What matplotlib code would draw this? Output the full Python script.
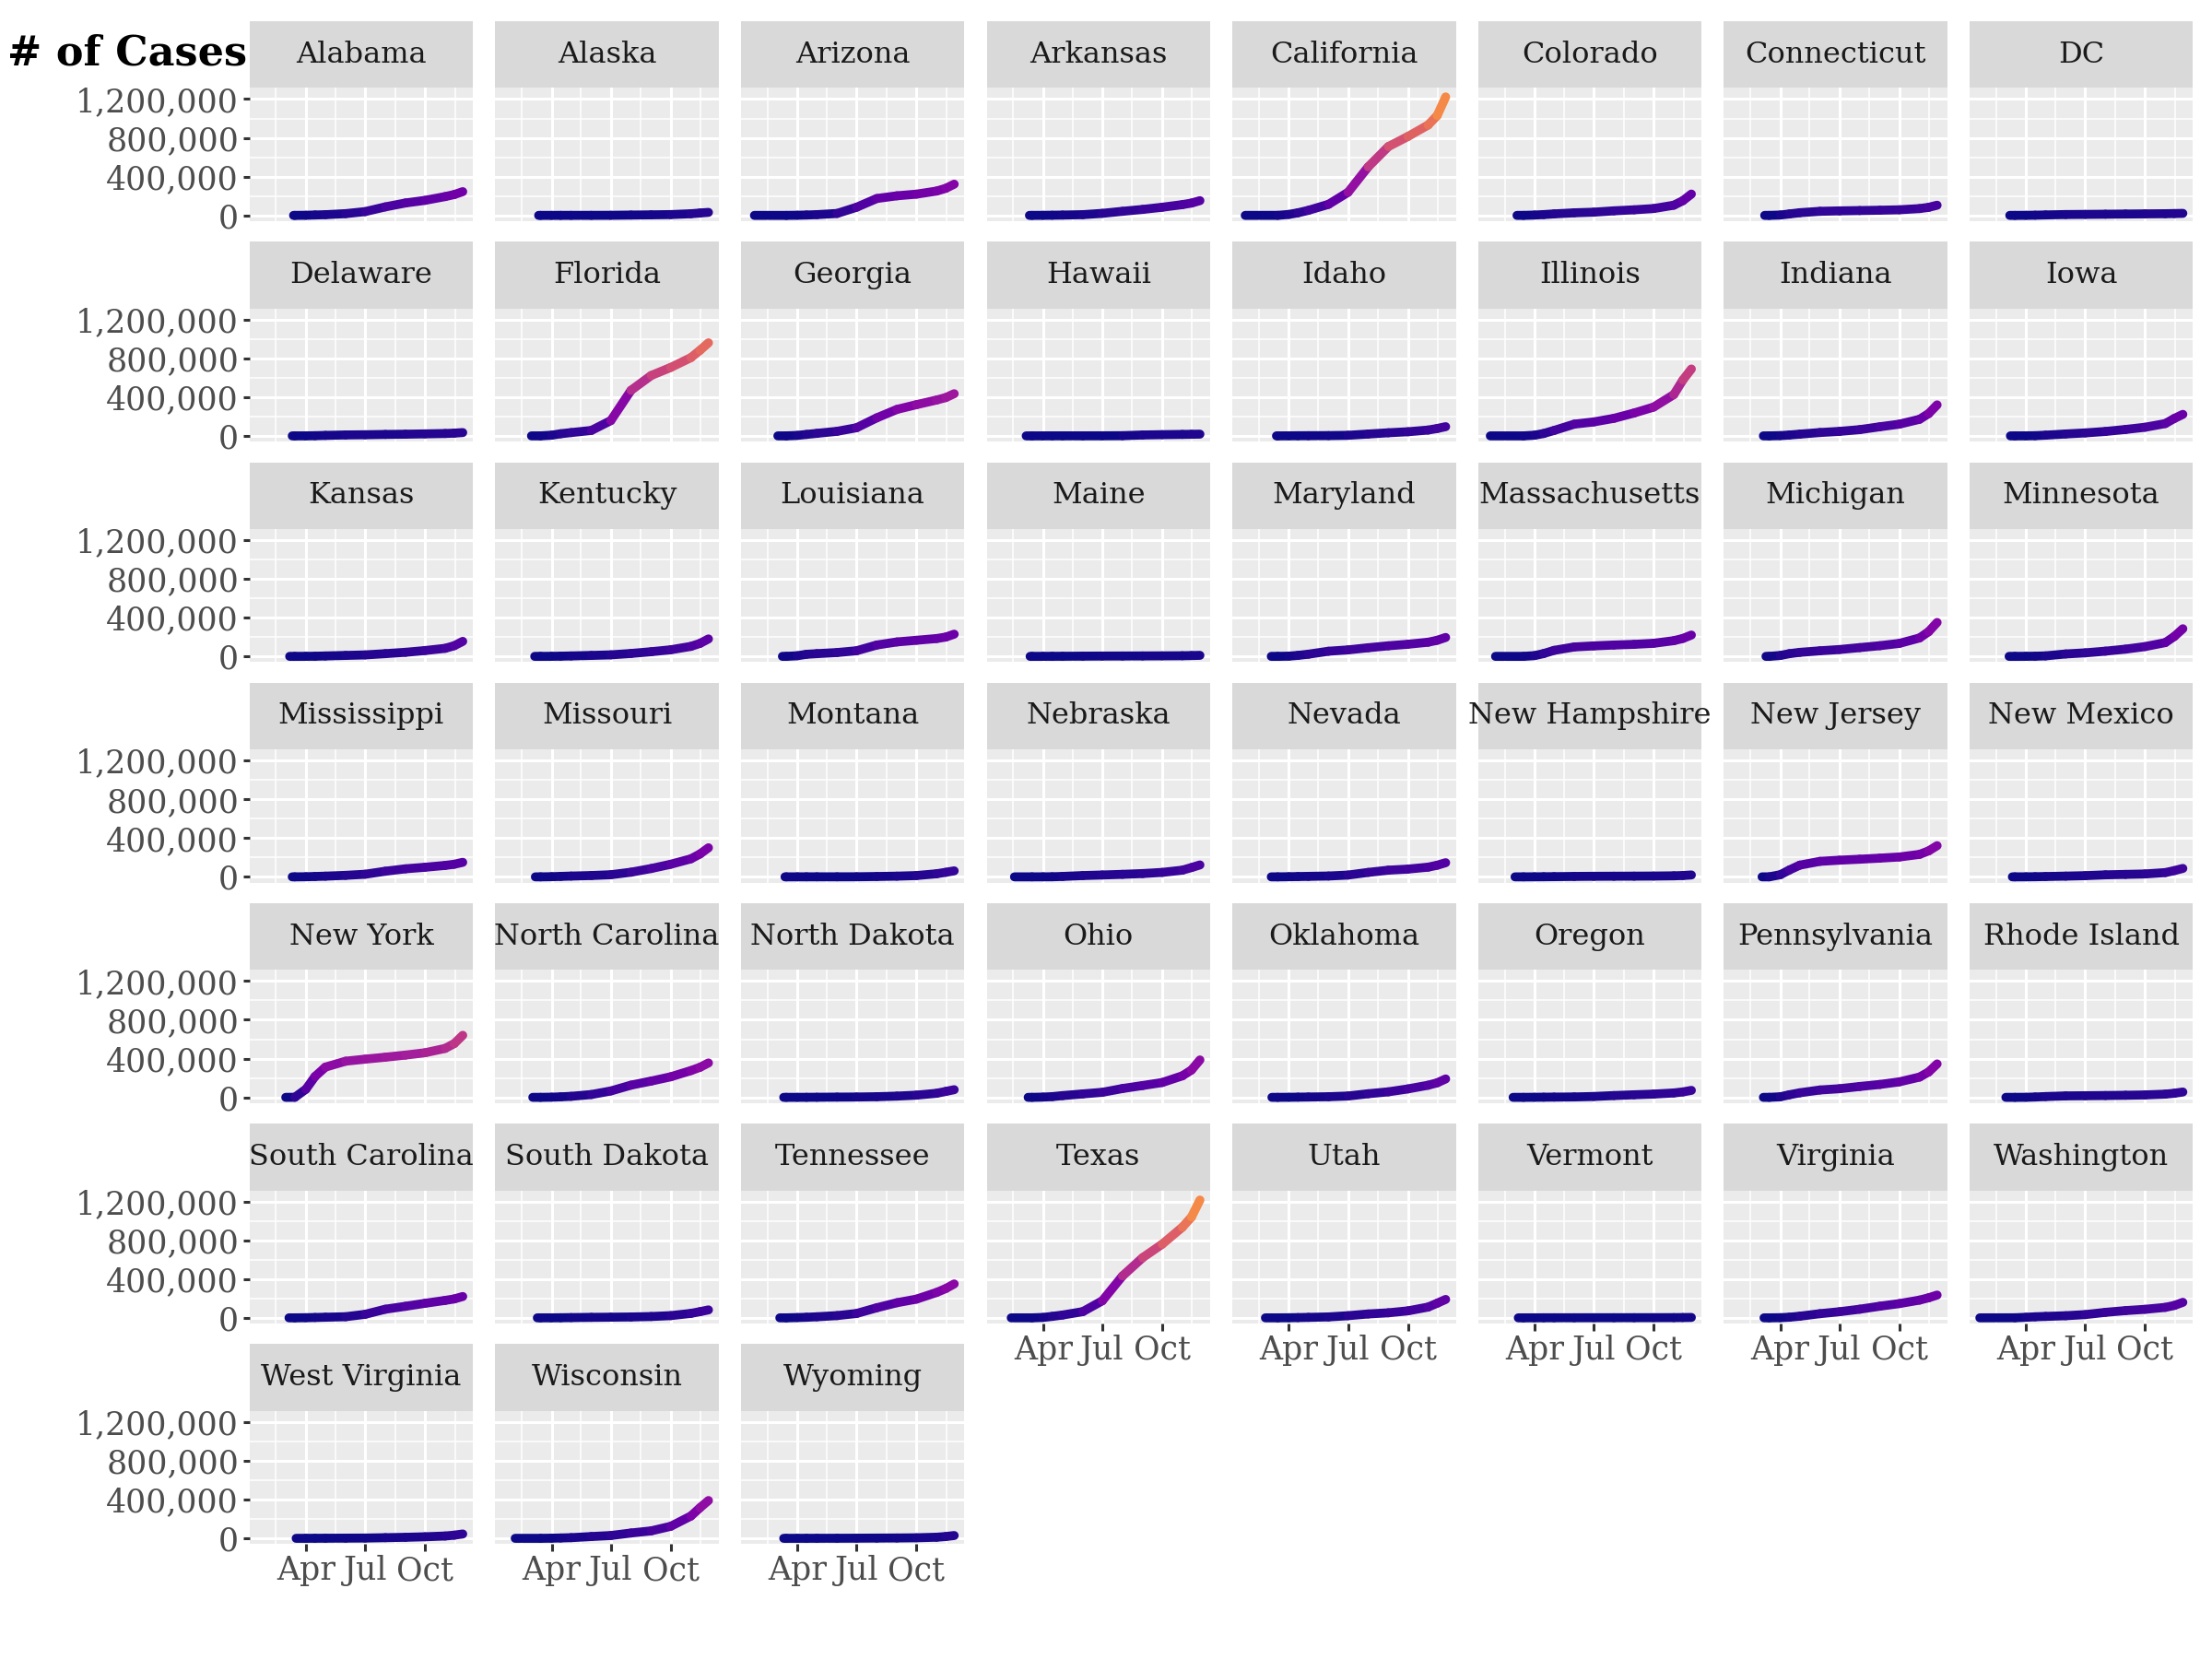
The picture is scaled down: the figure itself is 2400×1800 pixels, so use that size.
import numpy as np
import matplotlib.pyplot as plt
import matplotlib.dates as mdates
from matplotlib.collections import LineCollection
from matplotlib.colors import ListedColormap, PowerNorm
from matplotlib.ticker import FuncFormatter, FixedLocator

plt.rcParams['font.family'] = ['DejaVu Serif']

# cumulative cases (thousands) on these dates, after each state's first case
grid_dates = ['2020-03-15', '2020-04-01', '2020-04-15', '2020-05-01', '2020-06-01',
              '2020-07-01', '2020-08-01', '2020-09-01', '2020-10-01', '2020-11-01',
              '2020-11-15', '2020-11-28']

states = ['Alabama', 'Alaska', 'Arizona', 'Arkansas', 'California', 'Colorado',
          'Connecticut', 'DC', 'Delaware', 'Florida', 'Georgia', 'Hawaii', 'Idaho',
          'Illinois', 'Indiana', 'Iowa', 'Kansas', 'Kentucky', 'Louisiana', 'Maine',
          'Maryland', 'Massachusetts', 'Michigan', 'Minnesota', 'Mississippi',
          'Missouri', 'Montana', 'Nebraska', 'Nevada', 'New Hampshire', 'New Jersey',
          'New Mexico', 'New York', 'North Carolina', 'North Dakota', 'Ohio',
          'Oklahoma', 'Oregon', 'Pennsylvania', 'Rhode Island', 'South Carolina',
          'South Dakota', 'Tennessee', 'Texas', 'Utah', 'Vermont', 'Virginia',
          'Washington', 'West Virginia', 'Wisconsin', 'Wyoming']

first_case = ['2020-03-13', '2020-03-12', '2020-01-26', '2020-03-11', '2020-01-25',
              '2020-03-05', '2020-03-08', '2020-03-07', '2020-03-11', '2020-03-01',
              '2020-03-02', '2020-03-06', '2020-03-13', '2020-01-24', '2020-03-06',
              '2020-03-08', '2020-03-07', '2020-03-06', '2020-03-09', '2020-03-12',
              '2020-03-05', '2020-02-01', '2020-03-10', '2020-03-06', '2020-03-11',
              '2020-03-07', '2020-03-13', '2020-02-17', '2020-03-05', '2020-03-02',
              '2020-03-04', '2020-03-11', '2020-03-01', '2020-03-03', '2020-03-11',
              '2020-03-09', '2020-03-06', '2020-02-28', '2020-03-06', '2020-03-01',
              '2020-03-06', '2020-03-10', '2020-03-05', '2020-02-12', '2020-02-25',
              '2020-03-07', '2020-03-07', '2020-01-21', '2020-03-17', '2020-02-05',
              '2020-03-11']

cases_k = {
    'Alabama': [0.01, 1.1, 4.1, 7.1, 18, 38.9, 87.7, 128, 155, 194, 215, 245],
    'Alaska': [0.01, 0.13, 0.29, 0.36, 0.47, 0.95, 3.4, 5.6, 8.3, 17, 24.6, 31],
    'Arizona': [0.013, 1.4, 3.8, 7.6, 20, 84, 174, 202, 219, 251, 279, 322],
    'Arkansas': [0.02, 0.6, 1.6, 3.3, 7.4, 21, 42, 61.5, 84, 111, 127, 152],
    'California': [0.4, 9.9, 26.7, 52, 114, 238, 501, 710, 814, 932, 1030, 1222],
    'Colorado': [0.13, 3.3, 8.3, 15.3, 26.6, 33, 47, 57.5, 70.5, 105, 152, 220],
    'Connecticut': [0.026, 3.6, 14.8, 27.7, 42, 46.5, 49.8, 53.2, 57.7, 70.2, 83, 105],
    'DC': [0.01, 0.59, 2.0, 4.6, 8.8, 10.3, 12.1, 14, 15.6, 17.4, 19, 21],
    'Delaware': [0.006, 0.37, 1.9, 4.9, 9.6, 11.5, 14.8, 17.2, 20.6, 24.5, 28.2, 34],
    'Florida': [0.1, 7.0, 22, 34, 56, 158, 470, 623, 706, 807, 883, 960],
    'Georgia': [0.1, 4.7, 15, 26, 47, 84, 186, 273, 322, 370, 395, 435],
    'Hawaii': [0.007, 0.26, 0.53, 0.62, 0.65, 0.92, 2.0, 9.2, 12.5, 15, 16.3, 17.8],
    'Idaho': [0.005, 0.67, 1.5, 2.0, 2.9, 5.8, 19, 32, 42.6, 60, 76, 95],
    'Illinois': [0.093, 6.98, 24.6, 56, 121, 144, 181, 236, 297, 426, 577, 690],
    'Indiana': [0.02, 2.6, 8.9, 17.8, 34.6, 46.4, 64.3, 93.9, 121, 171, 230, 320],
    'Iowa': [0.02, 0.55, 1.9, 7.1, 19.7, 30.6, 45.5, 66.2, 89, 127, 180, 222],
    'Kansas': [0.01, 0.48, 1.4, 4.3, 9.7, 15, 28, 42, 60, 83, 110, 155],
    'Kentucky': [0.02, 0.63, 2.0, 4.5, 9.7, 15.6, 30, 48, 68, 103, 134, 180],
    'Louisiana': [0.1, 6.4, 21.5, 28, 39.5, 58, 117, 149, 166, 184, 199, 229],
    'Maine': [0.01, 0.34, 0.77, 1.1, 2.3, 3.3, 3.9, 4.6, 5.4, 6.5, 8.2, 10.5],
    'Maryland': [0.03, 2.3, 10, 22.4, 53, 66.8, 89, 109, 125, 146, 166, 195],
    'Massachusetts': [0.16, 7.7, 29, 62, 97, 108, 117, 124, 135, 162, 185, 220],
    'Michigan': [0.03, 9.3, 28, 41.4, 57.4, 70.5, 90.4, 110, 134, 190, 255, 350],
    'Minnesota': [0.03, 0.69, 1.7, 5.1, 25, 36.3, 53.7, 74.5, 101, 142, 206, 285],
    'Mississippi': [0.02, 1.07, 3.8, 7.2, 15.5, 27, 58, 83, 99, 118, 130, 150],
    'Missouri': [0.01, 1.6, 4.7, 8.1, 13.6, 22, 48, 86, 130, 186, 236, 300],
    'Montana': [0.007, 0.22, 0.4, 0.45, 0.5, 0.95, 3.7, 7.2, 13.4, 32, 47, 62],
    'Nebraska': [0.02, 0.25, 0.9, 4.3, 13.3, 19.2, 26, 34, 46, 69, 96, 123],
    'Nevada': [0.02, 1.3, 3.2, 5.1, 8.7, 18.5, 46, 69, 80, 100, 120, 146],
    'New Hampshire': [0.01, 0.41, 1.14, 2.1, 4.4, 5.8, 6.6, 7.3, 8.3, 10.7, 13.8, 19.5],
    'New Jersey': [0.1, 22, 71, 121, 160, 172, 182, 193, 205, 232, 268, 322],
    'New Mexico': [0.01, 0.36, 1.4, 3.4, 7.6, 12.3, 20.8, 25.4, 29.9, 44, 64.6, 87],
    'New York': [0.73, 84, 215, 312, 373, 394, 414, 436, 460, 505, 555, 640],
    'North Carolina': [0.03, 1.6, 5.2, 10.5, 29, 66, 126, 168, 212, 276, 310, 355],
    'North Dakota': [0.001, 0.15, 0.39, 1.1, 2.5, 3.5, 6.5, 12.7, 22.7, 41.9, 61, 79],
    'Ohio': [0.03, 2.5, 7.3, 18, 35.5, 52, 91, 122, 153, 222, 282, 386],
    'Oklahoma': [0.007, 0.72, 2.1, 3.5, 6.4, 13.8, 37.3, 57, 87, 125, 150, 190],
    'Oregon': [0.03, 0.74, 1.6, 2.5, 4.2, 8.9, 18.5, 26.5, 33.5, 45.4, 56, 72],
    'Pennsylvania': [0.05, 5.8, 26.7, 47, 76, 89, 112, 133, 160, 209, 262, 345],
    'Rhode Island': [0.02, 0.57, 3.5, 8.2, 15, 16.8, 18.9, 21.6, 25, 33, 42.3, 55],
    'South Carolina': [0.02, 1.3, 3.6, 6.3, 11.4, 36.3, 89, 119, 150, 180, 195, 220],
    'South Dakota': [0.009, 0.13, 0.99, 2.5, 5.0, 6.7, 8.9, 13.5, 22.7, 46, 63.7, 82],
    'Tennessee': [0.03, 2.8, 5.8, 10.9, 23, 45, 104, 156, 193, 262, 302, 350],
    'Texas': [0.07, 4.1, 15, 29, 64, 176, 432, 621, 760, 935, 1040, 1215],
    'Utah': [0.03, 0.9, 2.5, 4.8, 9.5, 22, 40, 52, 72, 111, 151, 190],
    'Vermont': [0.01, 0.32, 0.77, 0.87, 0.98, 1.2, 1.4, 1.6, 1.8, 2.2, 3.0, 4.1],
    'Virginia': [0.04, 1.5, 6.5, 16.9, 43, 63, 89, 120, 147, 183, 207, 235],
    'Washington': [0.77, 5.6, 10.8, 14.6, 21.7, 33.4, 56.7, 74.6, 88, 108, 128, 160],
    'West Virginia': [None, 0.19, 0.7, 1.1, 2.0, 2.9, 6.6, 10.5, 16, 24, 32.6, 45],
    'Wisconsin': [0.03, 1.5, 3.7, 6.9, 18.5, 29, 55, 77, 124, 230, 316, 390],
    'Wyoming': [0.003, 0.14, 0.28, 0.57, 0.88, 1.5, 2.7, 3.7, 5.6, 11.5, 18.6, 29],
}

x_ticks = ['2020-04-01', '2020-07-01', '2020-10-01']
x_labels = ['Apr', 'Jul', 'Oct']
x_minor = ['2020-02-15', '2020-05-16', '2020-08-16', '2020-11-16']
y_ticks = [0, 400000, 800000, 1200000]
y_minor = [200000, 600000, 1000000]


def dnum(s):
    return mdates.datestr2num(s)


cmap = ListedColormap(plt.get_cmap('plasma')(np.linspace(0, 0.76, 256)))
norm = PowerNorm(0.75, vmin=0, vmax=1222000)

W, H = 1560, 1170
fig = plt.figure(figsize=(12, 9), dpi=200)

fig.text(5 / W, 1 - 38 / H, '# of Cases', fontsize=16, fontweight='bold',
         ha='left', va='center', color='black')

xlo = dnum('2020-01-21') - 15.6
xhi = dnum('2020-11-28') + 15.6
n = len(states)
pw, ph, sh = 157.5, 94, 47

for i, state in enumerate(states):
    r, c = divmod(i, 8)
    left = 176 + 173.3 * c
    top = 15 + 155.5 * r

    sax = fig.add_axes([left / W, 1 - (top + sh) / H, pw / W, sh / H])
    sax.set_facecolor('#D9D9D9')
    sax.set_xticks([])
    sax.set_yticks([])
    for sp in sax.spines.values():
        sp.set_visible(False)
    sax.text(0.5, 0.5, state, ha='center', va='center', fontsize=11.5,
             color='#1A1A1A', transform=sax.transAxes)

    ax = fig.add_axes([left / W, 1 - (top + sh + ph) / H, pw / W, ph / H])
    ax.set_facecolor('#EBEBEB')
    for sp in ax.spines.values():
        sp.set_visible(False)

    xs = [dnum(first_case[i])]
    ys = [0.0]
    for d, v in zip(grid_dates, cases_k[state]):
        if v is None or dnum(d) <= xs[0]:
            continue
        xs.append(dnum(d))
        ys.append(v * 1000)
    xs = np.array(xs)
    ys = np.array(ys)
    pts = np.column_stack([xs, ys]).reshape(-1, 1, 2)
    segs = np.concatenate([pts[:-1], pts[1:]], axis=1)
    lc = LineCollection(segs, cmap=cmap, norm=norm, linewidths=3.5,
                        capstyle='round', joinstyle='round', zorder=3)
    lc.set_array((ys[:-1] + ys[1:]) / 2)
    ax.add_collection(lc)

    ax.set_xlim(xlo, xhi)
    ax.set_ylim(-60000, 1315000)
    ax.xaxis.set_major_locator(FixedLocator([dnum(d) for d in x_ticks]))
    ax.xaxis.set_minor_locator(FixedLocator([dnum(d) for d in x_minor]))
    ax.yaxis.set_major_locator(FixedLocator(y_ticks))
    ax.yaxis.set_minor_locator(FixedLocator(y_minor))
    ax.grid(which='major', color='white', linewidth=1.1)
    ax.grid(which='minor', color='white', linewidth=0.55)
    ax.set_axisbelow(True)
    ax.tick_params(which='minor', length=0)
    ax.tick_params(which='major', length=2.7, width=1.1, color='#333333',
                   labelcolor='#4D4D4D', labelsize=12.5, pad=1.5)

    if c == 0:
        ax.yaxis.set_major_formatter(FuncFormatter(lambda v, p: f'{int(v):,}'))
    else:
        ax.tick_params(axis='y', which='major', length=0, labelleft=False)

    if i + 8 >= n:
        ax.set_xticklabels(x_labels)
    else:
        ax.tick_params(axis='x', which='major', length=0, labelbottom=False)

fig.savefig('out.png', dpi=200)
